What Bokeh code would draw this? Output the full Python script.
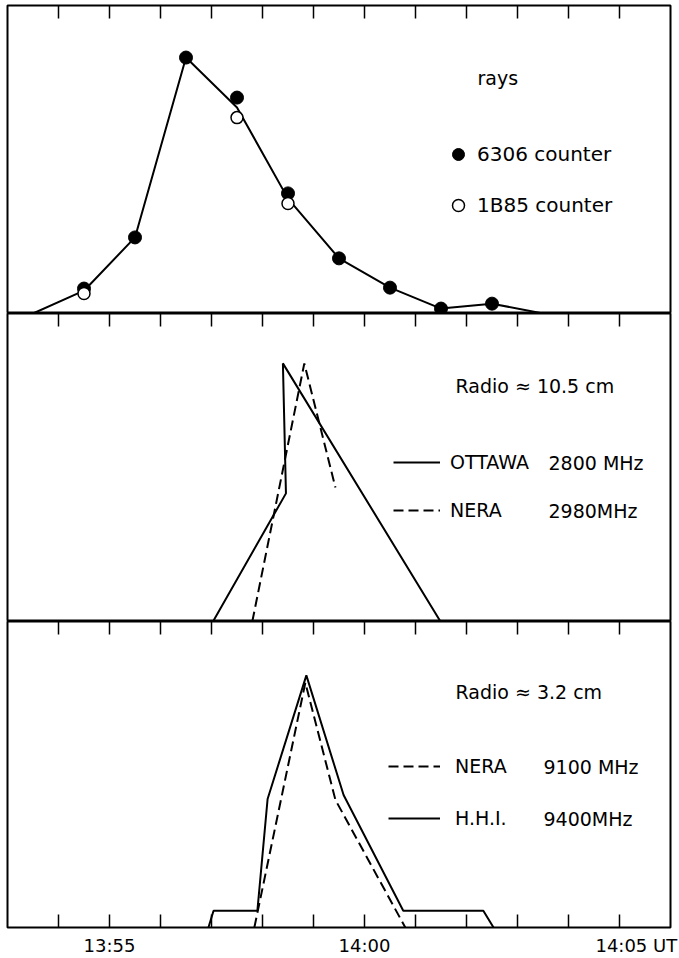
from bokeh.plotting import figure
from bokeh.models import (LinearAxis, FixedTicker, Range1d, Label, Legend, LegendItem)
from bokeh.layouts import column
from bokeh.embed import file_html
from bokeh.resources import INLINE

# ---------------- data (time in minutes after 13:00 UT, intensity in arbitrary units 0-100)
tick_minutes = [54, 55, 56, 57, 58, 59, 60, 61, 62, 63, 64, 65]
label_minutes = [55, 60, 65.33]          # label anchors (14:05 UT is centred on the whole text)
label_texts = ["13:55", "14:00", "14:05 UT"]

# panel 1: rays
ray_line_t = [53.5, 54.5, 55.5, 56.5, 57.5, 58.5, 59.5, 60.5, 61.5, 62.5, 63.5]
ray_line_v = [0.0, 7.4, 24.7, 83.1, 66.9, 37.3, 17.9, 8.4, 1.6, 3.2, 0.0]
c6306_t = [54.5, 55.5, 56.5, 57.5, 58.5, 59.5, 60.5, 61.5, 62.5]
c6306_v = [8.1, 24.7, 83.1, 70.1, 39.0, 17.9, 8.4, 1.6, 3.2]
c1b85_t = [54.5, 57.5, 58.5]
c1b85_v = [6.5, 63.6, 35.7]

# panel 2: radio ~10.5 cm
ottawa_t = [57.03, 58.46, 58.40, 61.49]
ottawa_v = [0.0, 41.6, 83.8, 0.0]
nera2980_t = [57.80, 58.82, 59.43]
nera2980_v = [0.0, 83.8, 43.5]

# panel 3: radio ~3.2 cm
hhi_t = [56.94, 57.04, 57.90, 58.10, 58.86, 59.59, 60.76, 62.33, 62.53]
hhi_v = [0.0, 5.5, 5.5, 42.0, 82.4, 43.3, 5.5, 5.5, 0.0]
nera9100_t = [57.84, 58.84, 59.43, 60.80]
nera9100_v = [0.0, 80.0, 41.7, 0.0]

FONT = "DejaVu Sans"
FS = "19px"
LW = 2
DASH = "10 5"


def tx(px):
    """pixel column of the page -> minutes"""
    return 53 + (px - 7) / 51.0


def make_fig(height, top, bottom):
    p = figure(width=679, height=height, x_range=Range1d(53, 66), y_range=Range1d(0, 100),
               output_backend="svg", toolbar_location=None,
               x_axis_location=None, y_axis_location=None,
               min_border_left=7, min_border_right=9,
               min_border_top=top, min_border_bottom=bottom)
    p.grid.visible = False
    p.outline_line_color = "black"
    p.outline_line_width = 2
    p.background_fill_color = "white"
    p.border_fill_color = "white"
    ax = LinearAxis(ticker=FixedTicker(ticks=[], minor_ticks=tick_minutes),
                    major_tick_line_color=None, major_tick_in=0, major_tick_out=0,
                    axis_line_color=None,
                    minor_tick_in=13, minor_tick_out=0,
                    minor_tick_line_width=1.5, minor_tick_line_color="black",
                    major_label_text_font_size="0px", major_label_standoff=0)
    p.add_layout(ax, "above")
    return p


def label(p, x_px, y_val, text, size=FS):
    p.add_layout(Label(x=tx(x_px), y=y_val, text=text, text_font=FONT, text_font_size=size,
                       text_color="black", text_baseline="middle", text_align="left"))


def legend(items, loc, gw, gh, standoff, spacing, size):
    return Legend(items=items, location=loc, orientation="vertical",
                  glyph_width=gw, glyph_height=gh, label_height=gh,
                  label_standoff=standoff, spacing=spacing, padding=0, margin=0,
                  label_text_font=FONT, label_text_font_size=size, label_text_color="black",
                  border_line_color=None, background_fill_alpha=0)


# ---------------- panel 1
p1 = make_fig(313, 5, 0)
p1.line(ray_line_t, ray_line_v, line_color="black", line_width=LW)
r_f = p1.scatter(c6306_t, c6306_v, marker="circle", size=13, fill_color="black", line_color="black")
r_o = p1.scatter(c1b85_t, c1b85_v, marker="circle", size=12, fill_color="white",
                 line_color="black", line_width=1.5)
label(p1, 477, 76.6, "rays")
p1.add_layout(legend([LegendItem(label="6306 counter", renderers=[r_f]),
                      LegendItem(label="1B85 counter", renderers=[r_o])],
                     (436, 93), 30, 30, 4, 21, "20px"))

# ---------------- panel 2
p2 = make_fig(308, 0, 0)
r_ott = p2.line(ottawa_t, ottawa_v, line_color="black", line_width=LW)
r_n1 = p2.line(nera2980_t, nera2980_v, line_color="black", line_width=LW, line_dash=DASH)
label(p2, 455, 76.6, "Radio \u2248  10.5 cm")
label(p2, 548, 51.6, "2800 MHz")
label(p2, 548, 36.0, "2980MHz")
p2.add_layout(legend([LegendItem(label="OTTAWA", renderers=[r_ott]),
                      LegendItem(label="NERA", renderers=[r_n1])],
                     (386, 99), 47, 24, 10, 24, FS))

# ---------------- panel 3
p3 = make_fig(337, 0, 30)
r_hhi = p3.line(hhi_t, hhi_v, line_color="black", line_width=LW)
r_n2 = p3.line(nera9100_t, nera9100_v, line_color="black", line_width=LW, line_dash=DASH)
label(p3, 455, 76.9, "Radio \u2248  3.2 cm")
label(p3, 543, 52.4, "9100 MHz")
label(p3, 543, 35.5, "9400MHz")
p3.add_layout(legend([LegendItem(label="NERA", renderers=[r_n2]),
                      LegendItem(label="H.H.I.", renderers=[r_hhi])],
                     (381, 97), 52, 24, 15, 28, FS))

bax = LinearAxis(ticker=FixedTicker(ticks=label_minutes, minor_ticks=tick_minutes),
                 major_tick_line_color=None, major_tick_in=0, major_tick_out=0,
                 axis_line_color=None,
                 minor_tick_in=13, minor_tick_out=0,
                 minor_tick_line_width=1.5, minor_tick_line_color="black",
                 major_label_overrides=dict(zip(label_minutes, label_texts)),
                 major_label_text_font=FONT, major_label_text_font_size="18px",
                 major_label_text_color="black", major_label_standoff=7)
p3.add_layout(bax, "below")

layout = column(p1, p2, p3, spacing=0)
open("out.html", "w").write(file_html(layout, INLINE))
